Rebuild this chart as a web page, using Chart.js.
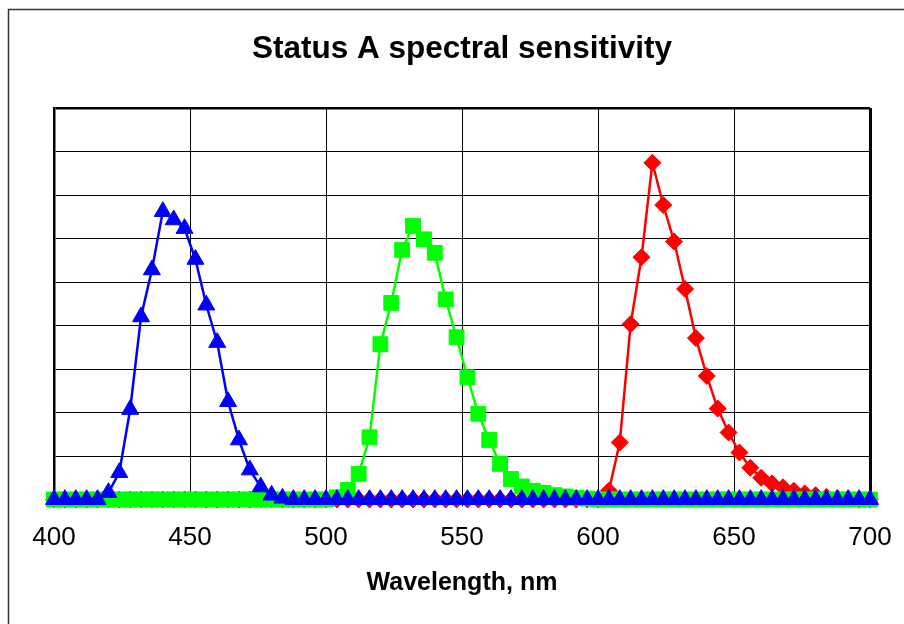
<!DOCTYPE html>
<html>
<head>
<meta charset="utf-8">
<script src="https://cdn.jsdelivr.net/npm/chart.js@4"></script>
<style>
  html, body { margin: 0; padding: 0; background: #fff; overflow: hidden; }
</style>
</head>
<body>
<canvas id="chart" width="904" height="624"></canvas>
<script>
/* ---- Data (4 nm steps) ---- */
const wavelengths = [
  400, 404, 408, 412, 416, 420, 424, 428, 432, 436,
  440, 444, 448, 452, 456, 460, 464, 468, 472, 476,
  480, 484, 488, 492, 496, 500, 504, 508, 512, 516,
  520, 524, 528, 532, 536, 540, 544, 548, 552, 556,
  560, 564, 568, 572, 576, 580, 584, 588, 592, 596,
  600, 604, 608, 612, 616, 620, 624, 628, 632, 636,
  640, 644, 648, 652, 656, 660, 664, 668, 672, 676,
  680, 684, 688, 692, 696, 700
];

const blueValues = [
  0, 0, 0, 0, 0, 0.16, 0.62, 2.07, 4.2, 5.28,
  6.62, 6.43, 6.23, 5.52, 4.47, 3.61, 2.25, 1.37, 0.68, 0.29,
  0.1, 0.03, 0, 0, 0, 0, 0, 0, 0, 0,
  0, 0, 0, 0, 0, 0, 0, 0, 0, 0,
  0, 0, 0, 0, 0, 0, 0, 0, 0, 0,
  0, 0, 0, 0, 0, 0, 0, 0, 0, 0,
  0, 0, 0, 0, 0, 0, 0, 0, 0, 0,
  0, 0, 0, 0, 0, 0
];

const greenValues = [
  0, 0, 0, 0, 0, 0, 0, 0, 0, 0,
  0, 0, 0, 0, 0, 0, 0, 0, 0, 0,
  0, 0, 0, 0, 0, 0, 0.05, 0.22, 0.59, 1.43,
  3.57, 4.52, 5.74, 6.29, 5.98, 5.67, 4.6, 3.73, 2.81, 1.97,
  1.37, 0.82, 0.47, 0.3, 0.2, 0.15, 0.1, 0.07, 0.04, 0.02,
  0, 0, 0, 0, 0, 0, 0, 0, 0, 0,
  0, 0, 0, 0, 0, 0, 0, 0, 0, 0,
  0, 0, 0, 0, 0, 0
];

const redValues = [
  0, 0, 0, 0, 0, 0, 0, 0, 0, 0,
  0, 0, 0, 0, 0, 0, 0, 0, 0, 0,
  0, 0, 0, 0, 0, 0, 0, 0, 0, 0,
  0, 0, 0, 0, 0, 0, 0, 0, 0, 0,
  0, 0, 0, 0, 0, 0, 0, 0, 0, 0,
  0, 0.2, 1.31, 4.03, 5.57, 7.74, 6.77, 5.93, 4.84, 3.71,
  2.84, 2.09, 1.54, 1.08, 0.73, 0.5, 0.37, 0.28, 0.2, 0.14,
  0.1, 0.06, 0.03, 0.02, 0, 0
];

const xTicks = [400, 450, 500, 550, 600, 650, 700];

/* ---- Helpers ---- */
const toPoints = (vals) => wavelengths.map((w, i) => ({ x: w, y: vals[i] }));

function series(label, vals, color, style, radius) {
  return {
    label,
    data: toPoints(vals),
    borderColor: color,
    backgroundColor: color,
    borderWidth: 2.5,
    tension: 0,
    pointStyle: style,
    pointRadius: radius,
    pointBorderWidth: 1,
    pointBorderColor: color,
    pointBackgroundColor: color,
    clip: false,
  };
}

/* ---- Outer frame ---- */
const framePlugin = {
  id: 'frame',
  beforeDraw(chart) {
    const c = chart.ctx;
    c.save();
    c.fillStyle = '#fff';
    c.fillRect(0, 0, chart.width, chart.height);
    c.strokeStyle = '#333';
    c.lineWidth = 1.5;
    c.strokeRect(8.5, 9.5, chart.width + 40, chart.height + 40);
    c.restore();
  },
};

Chart.defaults.font.family = '"Liberation Sans", Arial, sans-serif';
Chart.defaults.color = '#000';

new Chart(document.getElementById('chart'), {
  type: 'line',
  data: {
    datasets: [
      series('Blue', blueValues, '#0000ff', 'triangle', 9.8),
      series('Green', greenValues, '#00ff00', 'rect', 10.5),
      series('Red', redValues, '#ff0000', 'rectRot', 8.5),
    ],
  },
  options: {
    responsive: false,
    animation: false,
    layout: { padding: { left: 54, right: 34, top: 0, bottom: 0 } },
    plugins: {
      legend: { display: false },
      tooltip: { enabled: false },
      title: {
        display: true,
        text: 'Status A spectral sensitivity',
        font: { size: 31.5, weight: 'bold' },
        color: '#000',
        padding: { top: 30.3, bottom: 39.9 },
      },
    },
    scales: {
      x: {
        type: 'linear',
        min: 400,
        max: 700,
        afterBuildTicks: (scale) => { scale.ticks = xTicks.map((v) => ({ value: v })); },
        afterFit: (scale) => { scale.height = 124.5; },
        ticks: { font: { size: 26, lineHeight: 1.65 }, padding: 10, maxRotation: 0, color: '#000' },
        grid: {
          color: '#000',
          lineWidth: (ctx) => (ctx.tick && ctx.tick.value === 700 ? 3 : 1),
          tickLength: 7,
          drawTicks: true,
        },
        border: { display: true, color: '#000', width: 2 },
        title: {
          display: true,
          text: 'Wavelength, nm',
          font: { size: 25, weight: 'bold' },
          color: '#000',
          padding: { top: 0, bottom: 26 },
        },
      },
      y: {
        min: 0,
        max: 9,
        afterFit: (scale) => { scale.width = 0; },
        ticks: { display: false, stepSize: 1 },
        grid: {
          color: '#000',
          lineWidth: (ctx) => (ctx.tick && ctx.tick.value === 9 ? 2.5 : 1),
          drawTicks: false,
        },
        border: { display: true, color: '#000', width: 2.5 },
      },
    },
  },
  plugins: [framePlugin],
});
</script>
</body>
</html>
